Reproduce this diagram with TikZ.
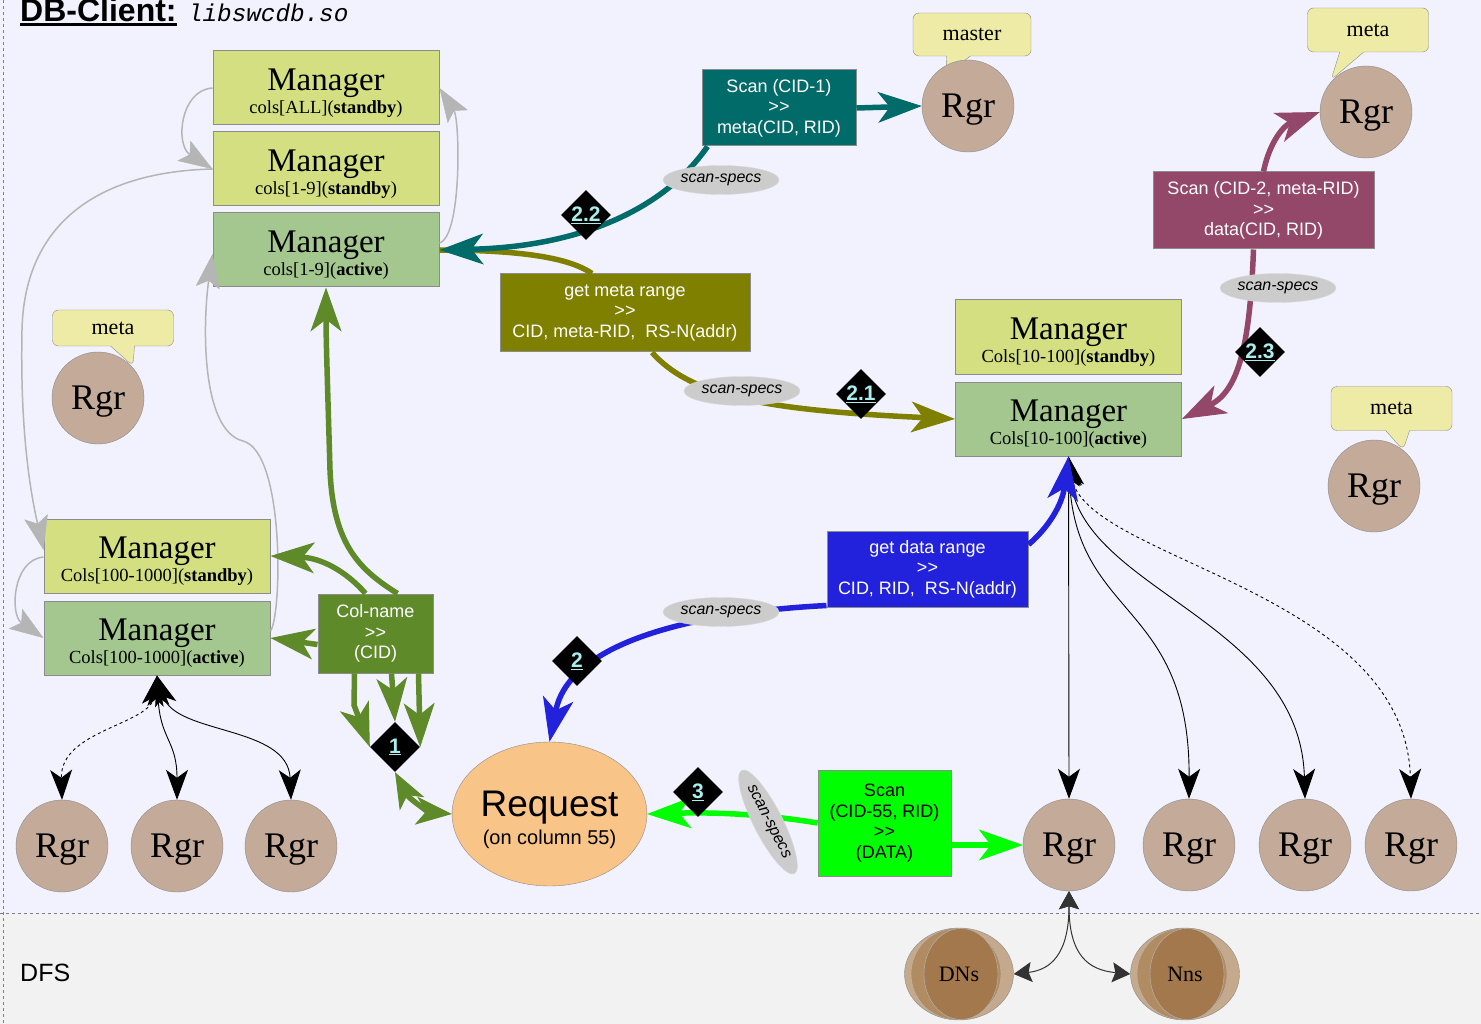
\documentclass[tikz,border=0pt]{standalone}
\usepackage{fontspec}
\setmainfont{Liberation Serif}
\setsansfont{Liberation Sans}
\setmonofont{Liberation Mono}
\usepackage{xcolor}
\usepackage{tikz}
\usetikzlibrary{arrows.meta}
\usetikzlibrary{positioning}
\usetikzlibrary{shapes.geometric}
\usetikzlibrary{shapes.callouts}
\definecolor{bgmain}{HTML}{F2F2FE}
\definecolor{bgdfs}{HTML}{F2F2F2}
\definecolor{boxline}{HTML}{8C8C8C}
\definecolor{mgrsb}{HTML}{D3DF80}
\definecolor{mgrac}{HTML}{A3C78E}
\definecolor{rgrfill}{HTML}{C4AA99}
\definecolor{bubblefill}{HTML}{EEEBA6}
\definecolor{tealc}{HTML}{006B68}
\definecolor{olivec}{HTML}{808000}
\definecolor{maroonc}{HTML}{944869}
\definecolor{bluec}{HTML}{2222DD}
\definecolor{greenc}{HTML}{00FF00}
\definecolor{colnamec}{HTML}{5E8A2A}
\definecolor{requestc}{HTML}{F8C488}
\definecolor{specsfill}{HTML}{CCCCCC}
\definecolor{numc}{HTML}{AAEEEE}
\definecolor{graylinec}{HTML}{B5B5B5}
\definecolor{dfsc}{HTML}{333333}
\definecolor{coinout}{HTML}{C4A98D}
\definecolor{coinmid}{HTML}{B18C63}
\definecolor{coinin}{HTML}{A3784C}
\newcommand{\mgrlabel}[2]{{\fontsize{33}{33}\selectfont\rule{0pt}{32pt}Manager}\\#1(\textbf{#2})}
\newcommand{\ultitle}[1]{\setbox0\hbox{#1}\rlap{\rule[-4pt]{\wd0}{2.5pt}}\box0}
\newcommand{\dblgt}{>\kern0pt>}

\begin{document}
\begin{tikzpicture}[x=1pt, y=-1pt,
		mgrbox/.style={rectangle, draw=boxline, line width=1pt, minimum width=226pt,
			minimum height=74pt, inner sep=0pt, align=center,
			font=\fontsize{18.5}{23}\selectfont},
		rgr/.style={circle, draw=boxline, fill=rgrfill, minimum size=92pt,
			inner sep=0pt, text depth=0pt, font=\fontsize{36}{36}\selectfont},
		bubble/.style={rectangle callout, draw=boxline, fill=bubblefill,
			rounded corners=6pt, minimum width=121pt, minimum height=44pt,
			inner sep=0pt, callout pointer width=24pt,
			font=\fontsize{22}{22}\selectfont},
		opbox/.style={rectangle, draw=boxline, line width=1pt, inner sep=0pt,
			align=center, text=white, font=\sffamily\fontsize{18}{20.5}\selectfont},
		specs/.style={ellipse, draw=gray!30, fill=specsfill, minimum width=116pt,
			minimum height=29pt, inner sep=0pt,
			font=\sffamily\itshape\fontsize{16}{16}\selectfont},
		stepmark/.style={diamond, fill=black, minimum width=50pt, minimum height=50pt,
			inner sep=0pt, text=numc, font=\sffamily\bfseries\fontsize{21}{21}\selectfont},
		coin/.style={ellipse, draw=boxline, fill=coinout, minimum width=109pt,
			minimum height=92pt, inner sep=0pt, font=\fontsize{22}{22}\selectfont,
			path picture={
				\filldraw[fill=coinmid, draw=boxline!60]
					([xshift=-3pt]path picture bounding box.center) ellipse [x radius=45pt, y radius=45.5pt];
				\filldraw[fill=coinin, draw=boxline!60]
					([xshift=2pt]path picture bounding box.center) ellipse [x radius=37pt, y radius=45.5pt];
			}},
		flow/.style={line width=5.5pt},
		bigtip/.style={-{Stealth[length=44pt, width=31pt, inset=12pt, line width=1pt]}},
		bothtip/.style={{Stealth[length=36pt, width=28pt, inset=10pt, line width=1pt]}-{Stealth[length=36pt, width=28pt, inset=10pt, line width=1pt]}},
		standbylink/.style={draw=graylinec, line width=1.5pt,
			-{Stealth[length=34pt, width=24pt, inset=7pt, line width=0.5pt]}},
		rgrlink/.style={line width=0.9pt,
			{Stealth[length=30pt, width=22pt, inset=8pt]}-{Stealth[length=30pt, width=22pt, inset=8pt]}},
		dfslink/.style={draw=dfsc, line width=1pt,
			{Stealth[length=18pt, width=20pt, inset=3pt]}-{Stealth[length=18pt, width=20pt, inset=3pt]}}
	]
	\useasboundingbox (0,0) rectangle (1481,1024);
	% Background
	\fill[bgmain] (0,0) rectangle (1481,913);
	\fill[bgdfs] (0,913) rectangle (1481,1024);
	\draw[gray, dashed] (0,913) -- (1481,913);
	\draw[gray, dashed] (3,0) -- (3,1024);
	% Titles
	\node[anchor=base west, inner sep=0pt, font=\sffamily\bfseries\fontsize{32}{32}\selectfont]
		(title) at (20,22) {\ultitle{DB-Client:}};
	\node[anchor=base west, inner sep=0pt, font=\ttfamily\itshape\fontsize{24.3}{24.3}\selectfont]
		(titleLib) at ([xshift=11pt]title.base east) {libswcdb.so};
	\node[anchor=west, inner sep=0pt, font=\sffamily\fontsize{25}{25}\selectfont]
		(dfsLabel) at (20,973) {DFS};
	% Callouts
	\node[bubble, minimum width=118pt, minimum height=43pt,
		callout absolute pointer={(947,74)}] (tagMaster) at (972,34.5) {master};
	\node[bubble, callout absolute pointer={(1331,80)}] (tagMetaA) at (1368,30) {meta};
	\node[bubble, minimum height=36pt, callout absolute pointer={(133,366)}] (tagMetaB) at (113,328) {meta};
	\node[bubble, callout absolute pointer={(1403,450)}] (tagMetaC) at (1391.5,408.5) {meta};
	% Managers
	\node[mgrbox, fill=mgrsb] (mgrAll) at (326,88) {\mgrlabel{cols[ALL]}{standby}};
	\node[mgrbox, fill=mgrsb, below=6pt of mgrAll] (mgrLoSb) {\mgrlabel{cols[1-9]}{standby}};
	\node[mgrbox, fill=mgrac, below=6pt of mgrLoSb] (mgrLoAc) {\mgrlabel{cols[1-9]}{active}};
	\node[mgrbox, fill=mgrsb] (mgrMidSb) at (1068.5,337) {\mgrlabel{Cols[10-100]}{standby}};
	\node[mgrbox, fill=mgrac, below=7pt of mgrMidSb] (mgrMidAc) {\mgrlabel{Cols[10-100]}{active}};
	\node[mgrbox, fill=mgrsb] (mgrHiSb) at (157,556) {\mgrlabel{Cols[100-1000]}{standby}};
	\node[mgrbox, fill=mgrac, below=7pt of mgrHiSb] (mgrHiAc) {\mgrlabel{Cols[100-1000]}{active}};
	% Rgrs
	\node[rgr] (rgrMaster) at (968,106) {Rgr};
	\node[rgr] (rgrMetaA) at (1366,112) {Rgr};
	\node[rgr] (rgrMetaB) at (98,398) {Rgr};
	\node[rgr] (rgrMetaC) at (1374,486) {Rgr};
	\node[rgr] (rgrL1) at (62,846) {Rgr};
	\node[rgr] (rgrL2) at (177,846) {Rgr};
	\node[rgr] (rgrL3) at (291,846) {Rgr};
	\node[rgr] (rgrR1) at (1069,845) {Rgr};
	\node[rgr] (rgrR2) at (1189,845) {Rgr};
	\node[rgr] (rgrR3) at (1305,845) {Rgr};
	\node[rgr] (rgrR4) at (1411,845) {Rgr};
	% Operations
	\node[opbox, fill=tealc, minimum width=154pt, minimum height=76pt]
		(scanMeta) at (779,108) {Scan (CID-1)\\\dblgt\\meta(CID, RID)};
	\node[opbox, fill=olivec, minimum width=250pt, minimum height=78pt]
		(getMeta) at (625,313) {get meta range\\\dblgt\\CID, meta-RID,\ \ RS-N(addr)};
	\node[opbox, fill=maroonc, minimum width=221pt, minimum height=77pt]
		(scanData) at (1263.5,210.5) {Scan (CID-2, meta-RID)\\\dblgt\\data(CID, RID)};
	\node[opbox, fill=bluec, minimum width=201pt, minimum height=76pt]
		(getData) at (927.5,569) {get data range\\\dblgt\\CID, RID,\ \ RS-N(addr)};
	\node[opbox, fill=greenc, text=black, minimum width=133pt, minimum height=106pt]
		(scanCol) at (884.5,823) {Scan\\(CID-55, RID)\\\dblgt\\(DATA)};
	\node[opbox, fill=colnamec, minimum width=115pt, minimum height=79pt]
		(colName) at (375.5,633.5) {Col-name\\\dblgt\\(CID)};
	\node[ellipse, draw=boxline, fill=requestc, minimum width=173pt, minimum height=144pt,
		inner sep=0pt, align=center, font=\sffamily\fontsize{20}{28}\selectfont]
		(request) at (549.5,814) {{\fontsize{37}{37}\selectfont\rule{0pt}{37pt}Request}\\(on column 55)};
	% DFS
	\node[coin] (dns) at (959,974) {DNs};
	\node[coin] (nns) at (1185,974) {Nns};
	\node[stepmark] (d1) at (395,747) {\underline{1}};
	% Standby chain
	\draw[standbylink] (mgrAll.west) .. controls (180,90) and (175,145) .. (mgrLoSb.west);
	\draw[standbylink] ([yshift=7pt]mgrLoAc.east) .. controls (462,236) and (460,120) .. (mgrAll.east);
	\draw[standbylink] (mgrLoSb.west) .. controls (90,172) and (24,230) .. (22,330)
		.. controls (20,430) and (30,490) .. ([yshift=6pt]mgrHiSb.west);
	\draw[standbylink] ([yshift=-1pt]mgrHiSb.west) .. controls (12,560) and (10,615) .. (mgrHiAc.west);
	\draw[standbylink] ([yshift=7pt]mgrHiAc.east) .. controls (282,615) and (285,452) .. (243,441)
		.. controls (200,430) and (203,320) .. ([yshift=-4pt]mgrLoAc.west);
	% Rgr links
	\draw[rgrlink, dashed] (mgrHiAc.south) .. controls (150,725) and (60,730) .. (rgrL1.north);
	\draw[rgrlink] (mgrHiAc.south) .. controls (160,740) and (177,740) .. (rgrL2.north);
	\draw[rgrlink] (mgrHiAc.south) .. controls (175,735) and (288,725) .. (rgrL3.north);
	\draw[rgrlink] (mgrMidAc.south) -- (rgrR1.north);
	\draw[rgrlink] (mgrMidAc.south) .. controls (1075,620) and (1190,600) .. (rgrR2.north);
	\draw[rgrlink] (mgrMidAc.south) .. controls (1080,590) and (1300,620) .. (rgrR3.north);
	\draw[rgrlink, dashed] (mgrMidAc.south) .. controls (1085,560) and (1405,590) .. (rgrR4.north);
	\draw[dfslink] (rgrR1.south) .. controls (1069,955) and (1050,970) .. (dns.east);
	\draw[dfslink] (rgrR1.south) .. controls (1069,955) and (1088,970) .. (nns.west);
	% Meta range
	\draw[flow, olivec] (mgrLoAc.east) .. controls (540,250) and (575,262) .. ([xshift=-33pt]getMeta.north);
	\draw[flow, olivec, bigtip] ([xshift=27pt]getMeta.south) .. controls (690,395) and (760,410) .. (mgrMidAc.west);
	\draw[flow, tealc, bigtip] ([xshift=6pt]scanMeta.south west) .. controls (660,215) and (570,247) .. (mgrLoAc.east);
	\draw[flow, tealc, bigtip] (scanMeta.east) -- (rgrMaster.west);
	% Data range
	\draw[flow, maroonc, bigtip] ([xshift=-10pt]scanData.south) .. controls (1250,340) and (1240,390) .. (mgrMidAc.east);
	\draw[flow, maroonc, bigtip] (scanData.north) .. controls (1270,140) and (1285,125) .. (rgrMetaA.west);
	\draw[flow, bluec, bigtip] ([yshift=-14pt]getData.north east) .. controls (1048,528) and (1062,505) .. (mgrMidAc.south);
	\draw[flow, bluec, bigtip] ([yshift=2pt]getData.south west) .. controls (700,612) and (570,640) .. (request.north);
	% Scan
	\draw[flow, greenc, bigtip] (scanCol.west) .. controls (770,815) and (720,812) .. (request.east);
	\draw[flow, greenc, bigtip] ([yshift=-22pt]scanCol.east) -- (rgrR1.west);
	% Col-name
	\draw[flow, colnamec, bigtip] ([xshift=22pt]colName.north) .. controls (360,570) and (333,545) .. (330,470)
		.. controls (328,400) and (326,340) .. (mgrLoAc.south);
	\draw[flow, colnamec, bigtip] ([xshift=-10pt]colName.north) .. controls (345,570) and (320,558) .. (mgrHiSb.east);
	\draw[flow, colnamec, bigtip] ([yshift=-11pt]colName.west) -- (mgrHiAc.east);
	\draw[flow, colnamec, bigtip] ([xshift=-21pt]colName.south) -- (354,705) -- (d1.west);
	\draw[flow, colnamec, bigtip] ([xshift=16pt]colName.south) -- (d1.north);
	\draw[flow, colnamec, bigtip] ([xshift=43pt]colName.south) -- (d1.east);
	\draw[flow, colnamec, bothtip] (d1.south) .. controls (410,800) and (430,812) .. (request.west);
	% Specs and steps
	\node[specs] (specsMeta) at (721,180) {scan-specs};
	\node[specs] (specsMetaRange) at (742,391) {scan-specs};
	\node[specs] (specsData) at (1278,288) {scan-specs};
	\node[specs] (specsDataRange) at (721,612) {scan-specs};
	\node[specs, rotate=-63] (specsCol) at (768,822) {scan-specs};
	\node[stepmark] (d2) at (577,661) {\underline{2}};
	\node[stepmark] (d21) at (861,394) {\underline{2.1}};
	\node[stepmark] (d22) at (586,215) {\underline{2.2}};
	\node[stepmark] (d23) at (1260,352) {\underline{2.3}};
	\node[stepmark] (d3) at (698,792) {\underline{3}};
\end{tikzpicture}
\end{document}
